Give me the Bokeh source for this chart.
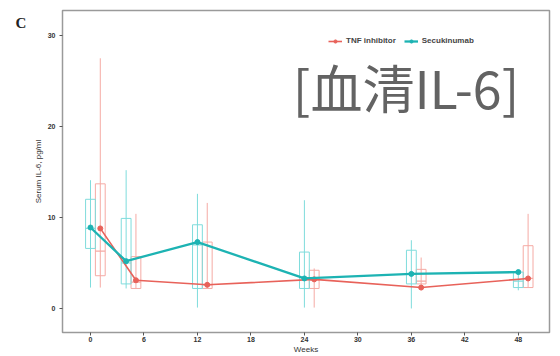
from bokeh.plotting import figure
from bokeh.models import Range1d, FixedTicker, Label, Legend, LegendItem
from bokeh.embed import file_html
from bokeh.resources import INLINE

# ---- data ----
weeks = [0, 4, 12, 24, 36, 48]
x_ticks = [0, 6, 12, 18, 24, 30, 36, 42, 48]
y_ticks = [0, 10, 20, 30]

secu_mean = [8.9, 5.2, 7.3, 3.3, 3.8, 4.0]
secu_q1 = [6.6, 2.7, 2.2, 2.2, 2.7, 2.3]
secu_q3 = [12.0, 9.9, 9.2, 6.2, 6.4, 4.0]
secu_med = [8.8, 5.0, 7.0, 3.4, 3.8, 3.0]
secu_lo = [2.3, 2.2, 0.1, 0.1, 0.0, 2.0]
secu_hi = [14.1, 15.2, 12.6, 11.9, 7.5, 4.0]

tnf_mean = [8.8, 3.1, 2.6, 3.2, 2.3, 3.3]
tnf_q1 = [3.6, 2.2, 2.2, 2.2, 2.7, 2.3]
tnf_q3 = [13.7, 5.7, 7.3, 4.2, 4.3, 6.9]
tnf_med = [6.3, 2.9, 2.6, 3.1, 3.0, 3.3]
tnf_lo = [2.3, 2.2, 2.2, 0.1, 2.0, 2.3]
tnf_hi = [27.5, 10.4, 11.6, 4.4, 5.6, 10.4]

# ---- styling ----
SECU_DODGE = 0.0
TNF_DODGE = 1.1
BOX_W = 1.1
TEAL = "#1db3b3"
TEAL_LIGHT = "#7fdcdc"
RED = "#e8625a"
RED_LIGHT = "#f5aaa4"
FONT = "Liberation Sans"

p = figure(width=560, height=356, output_backend="svg", toolbar_location=None,
           x_range=Range1d(-3.14, 51.5), y_range=Range1d(-2.64, 32.75),
           min_border_left=62, min_border_right=11, min_border_top=10,
           min_border_bottom=24)
p.background_fill_color = "white"
p.border_fill_color = "white"
p.outline_line_color = "#9a9a9a"
p.outline_line_width = 1.5
p.xgrid.visible = False
p.ygrid.visible = False

for ax in (p.xaxis[0], p.yaxis[0]):
    ax.axis_line_color = None
    ax.major_tick_line_color = "#555555"
    ax.major_tick_out = 3
    ax.major_tick_in = 0
    ax.minor_tick_line_color = None
    ax.major_label_text_font = FONT
    ax.major_label_text_font_size = "7px"
    ax.major_label_text_font_style = "bold"
    ax.major_label_text_color = "#333333"
    ax.axis_label_text_font = FONT
    ax.axis_label_text_font_size = "8px"
    ax.axis_label_text_font_style = "normal"
    ax.axis_label_text_color = "#333333"

p.xaxis.major_label_standoff = 1
p.xaxis.axis_label_standoff = 0
p.yaxis.major_label_standoff = 4
p.yaxis.axis_label_standoff = 2

p.xaxis.ticker = FixedTicker(ticks=x_ticks)
p.yaxis.ticker = FixedTicker(ticks=y_ticks)
p.xaxis.axis_label = "Weeks"
p.yaxis.axis_label = "Serum IL-6, pg/ml"


def draw_group(dodge, q1, q3, med, lo, hi, light):
    xs = [w + dodge for w in weeks]
    p.segment(x0=xs, y0=lo, x1=xs, y1=hi, line_color=light, line_width=1)
    p.vbar(x=xs, width=BOX_W, bottom=q1, top=q3, fill_color=None,
           line_color=light, line_width=1)
    x0 = [x - BOX_W / 2 for x in xs]
    x1 = [x + BOX_W / 2 for x in xs]
    p.segment(x0=x0, y0=med, x1=x1, y1=med, line_color=light, line_width=1.2)
    return xs


xs_t = draw_group(TNF_DODGE, tnf_q1, tnf_q3, tnf_med, tnf_lo, tnf_hi, RED_LIGHT)
xs_s = draw_group(SECU_DODGE, secu_q1, secu_q3, secu_med, secu_lo, secu_hi, TEAL_LIGHT)

rl = p.line(xs_t, tnf_mean, line_color=RED, line_width=1.6)
rs = p.scatter(xs_t, tnf_mean, size=5, color=RED)
tl = p.line(xs_s, secu_mean, line_color=TEAL, line_width=2.3)
ts = p.scatter(xs_s, secu_mean, size=5, color=TEAL)

legend = Legend(items=[LegendItem(label="TNF inhibitor", renderers=[rl, rs]),
                       LegendItem(label="Secukinumab", renderers=[tl, ts])],
                orientation="horizontal", location=(266, 287),
                border_line_color=None, background_fill_alpha=0,
                label_text_font=FONT, label_text_font_size="8px",
                label_text_font_style="bold", label_text_color="#444444",
                glyph_width=14, glyph_height=8, label_height=8,
                label_standoff=4, spacing=8, padding=0, margin=0)
p.add_layout(legend, "center")

p.add_layout(Label(x=22.7, y=24.4, text="[血清IL-6]",
                   text_font="Noto Sans CJK JP",
                   text_font_size="52px", text_color="#636363",
                   text_align="left", text_baseline="middle"))

# panel letter sits outside the frame: put it in the left side panel
p.add_layout(Label(x=-8.4, y=31.4, text="C",
                   text_font="Liberation Serif", text_font_style="bold",
                   text_font_size="15px", text_color="#222222",
                   text_align="left", text_baseline="middle"), "left")

open("out.html", "w").write(file_html(p, INLINE))
